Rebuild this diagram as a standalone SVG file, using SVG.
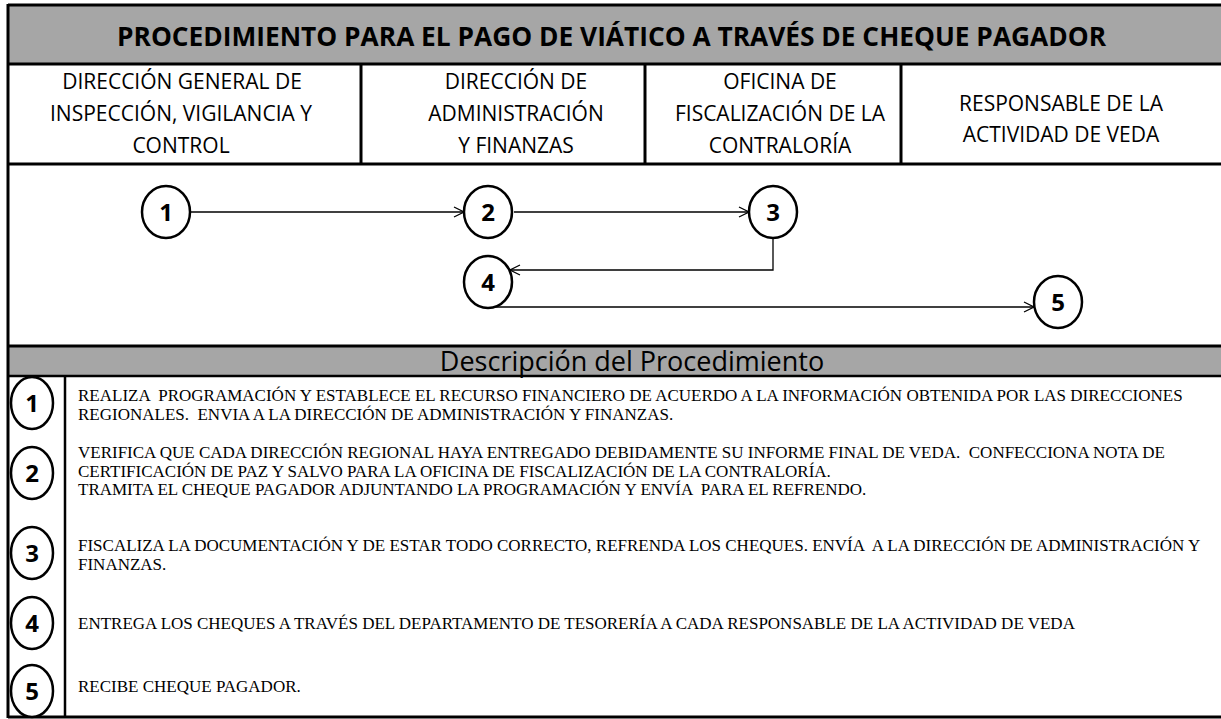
<svg xmlns="http://www.w3.org/2000/svg" width="1221" height="719" viewBox="0 0 1221 719">
<style>
.band{fill:#a6a6a6;stroke:none}
.rule{stroke:#000;stroke-width:3;fill:none}
.thin{stroke:#000;stroke-width:2.5;fill:none}
.title{font-family:"Open Sans","Liberation Sans",sans-serif;font-weight:bold;font-size:26px;fill:#000}
.hdr{font-family:"Open Sans","Liberation Sans",sans-serif;font-size:21px;fill:#000;text-anchor:middle}
.sub{font-family:"Open Sans","Liberation Sans",sans-serif;font-size:27px;fill:#000;text-anchor:middle}
.desc{font-family:"Liberation Serif","Times New Roman",serif;font-size:17px;fill:#000;white-space:pre}
.node ellipse{fill:#fff;stroke:#000;stroke-width:2.5}
.num{font-family:"Open Sans","Liberation Sans",sans-serif;font-weight:bold;font-size:24px;fill:#000;text-anchor:middle}
.conn{stroke:#000;stroke-width:1.3;fill:none}
</style>
<defs>
<marker id="arr" viewBox="0 0 12 12" refX="11" refY="6" markerWidth="12" markerHeight="12" markerUnits="userSpaceOnUse" orient="auto">
<path d="M1,1 L11,6 L1,11" fill="none" stroke="#000" stroke-width="1.3"/>
</marker>
</defs>
<rect width="1221" height="719" fill="#fff"/>
<!-- title band -->
<rect class="band" x="8" y="5" width="1213" height="59"/>
<text class="title" x="117" y="46" textLength="989" lengthAdjust="spacingAndGlyphs">PROCEDIMIENTO PARA EL PAGO DE VIÁTICO A TRAVÉS DE CHEQUE PAGADOR</text>
<!-- description band -->
<rect class="band" x="8" y="346" width="1213" height="30"/>
<text class="sub" x="632" y="371">Descripción del Procedimiento</text>
<!-- grid lines -->
<g id="grid">
<line class="rule" x1="8" y1="5" x2="1221" y2="5"/>
<line class="rule" x1="8" y1="64" x2="1221" y2="64"/>
<line class="rule" x1="8" y1="164" x2="1221" y2="164"/>
<line class="rule" x1="8" y1="346" x2="1221" y2="346"/>
<line class="thin" x1="8" y1="376" x2="1221" y2="376"/>
<line class="rule" x1="8" y1="717" x2="1221" y2="717"/>
<line class="rule" x1="8" y1="4" x2="8" y2="718"/>
<line class="rule" x1="361" y1="64" x2="361" y2="164"/>
<line class="rule" x1="645" y1="64" x2="645" y2="164"/>
<line class="rule" x1="901" y1="64" x2="901" y2="164"/>
<line class="thin" x1="65" y1="376" x2="65" y2="717"/>
</g>
<!-- lane headers -->
<g id="lane1">
<text class="hdr" x="182" y="89">DIRECCIÓN GENERAL DE</text>
<text class="hdr" x="181" y="121">INSPECCIÓN, VIGILANCIA Y</text>
<text class="hdr" x="181" y="153">CONTROL</text>
</g>
<g id="lane2">
<text class="hdr" x="516" y="89">DIRECCIÓN DE</text>
<text class="hdr" x="516" y="121">ADMINISTRACIÓN</text>
<text class="hdr" x="516" y="153">Y FINANZAS</text>
</g>
<g id="lane3">
<text class="hdr" x="780" y="89">OFICINA DE</text>
<text class="hdr" x="780" y="121">FISCALIZACIÓN DE LA</text>
<text class="hdr" x="780" y="153">CONTRALORÍA</text>
</g>
<g id="lane4">
<text class="hdr" x="1061" y="111">RESPONSABLE DE LA</text>
<text class="hdr" x="1061" y="142">ACTIVIDAD DE VEDA</text>
</g>
<!-- connectors -->
<g id="connectors">
<line class="conn" x1="190" y1="212" x2="464" y2="212" marker-end="url(#arr)"/>
<line class="conn" x1="514" y1="212" x2="749" y2="212" marker-end="url(#arr)"/>
<path class="conn" d="M773,238 V270 H510" marker-end="url(#arr)"/>
<path class="conn" d="M488,307 H1034" marker-end="url(#arr)"/>
</g>
<!-- flow nodes -->
<g id="node1" class="node"><ellipse cx="166" cy="212" rx="24" ry="26"/><text class="num" x="166" y="221">1</text></g>
<g id="node2" class="node"><ellipse cx="488" cy="212" rx="24" ry="26"/><text class="num" x="488" y="221">2</text></g>
<g id="node3" class="node"><ellipse cx="773" cy="212" rx="24" ry="26"/><text class="num" x="773" y="221">3</text></g>
<g id="node4" class="node"><ellipse cx="488" cy="282" rx="24" ry="26"/><text class="num" x="488" y="291">4</text></g>
<g id="node5" class="node"><ellipse cx="1058" cy="302" rx="24" ry="26"/><text class="num" x="1058" y="311">5</text></g>
<!-- description rows -->
<g id="step1">
<ellipse cx="32" cy="403" rx="21" ry="26" fill="#fff" stroke="#000" stroke-width="2.5"/>
<text class="num" x="32" y="412">1</text>
<text class="desc" x="78" y="401">REALIZA  PROGRAMACIÓN Y ESTABLECE EL RECURSO FINANCIERO DE ACUERDO A LA INFORMACIÓN OBTENIDA POR LAS DIRECCIONES</text>
<text class="desc" x="78" y="420">REGIONALES.  ENVIA A LA DIRECCIÓN DE ADMINISTRACIÓN Y FINANZAS.</text>
</g>
<g id="step2">
<ellipse cx="32" cy="473" rx="21" ry="26" fill="#fff" stroke="#000" stroke-width="2.5"/>
<text class="num" x="32" y="482">2</text>
<text class="desc" x="78" y="458">VERIFICA QUE CADA DIRECCIÓN REGIONAL HAYA ENTREGADO DEBIDAMENTE SU INFORME FINAL DE VEDA.  CONFECCIONA NOTA DE</text>
<text class="desc" x="78" y="477">CERTIFICACIÓN DE PAZ Y SALVO PARA LA OFICINA DE FISCALIZACIÓN DE LA CONTRALORÍA.</text>
<text class="desc" x="78" y="495">TRAMITA EL CHEQUE PAGADOR ADJUNTANDO LA PROGRAMACIÓN Y ENVÍA  PARA EL REFRENDO.</text>
</g>
<g id="step3">
<ellipse cx="32" cy="553" rx="21" ry="26" fill="#fff" stroke="#000" stroke-width="2.5"/>
<text class="num" x="32" y="562">3</text>
<text class="desc" x="78" y="551">FISCALIZA LA DOCUMENTACIÓN Y DE ESTAR TODO CORRECTO, REFRENDA LOS CHEQUES. ENVÍA  A LA DIRECCIÓN DE ADMINISTRACIÓN Y</text>
<text class="desc" x="78" y="570">FINANZAS.</text>
</g>
<g id="step4">
<ellipse cx="32" cy="623" rx="21" ry="26" fill="#fff" stroke="#000" stroke-width="2.5"/>
<text class="num" x="32" y="632">4</text>
<text class="desc" x="78" y="629">ENTREGA LOS CHEQUES A TRAVÉS DEL DEPARTAMENTO DE TESORERÍA A CADA RESPONSABLE DE LA ACTIVIDAD DE VEDA</text>
</g>
<g id="step5">
<ellipse cx="32" cy="691" rx="21" ry="26" fill="#fff" stroke="#000" stroke-width="2.5"/>
<text class="num" x="32" y="700">5</text>
<text class="desc" x="78" y="692">RECIBE CHEQUE PAGADOR.</text>
</g>
</svg>
